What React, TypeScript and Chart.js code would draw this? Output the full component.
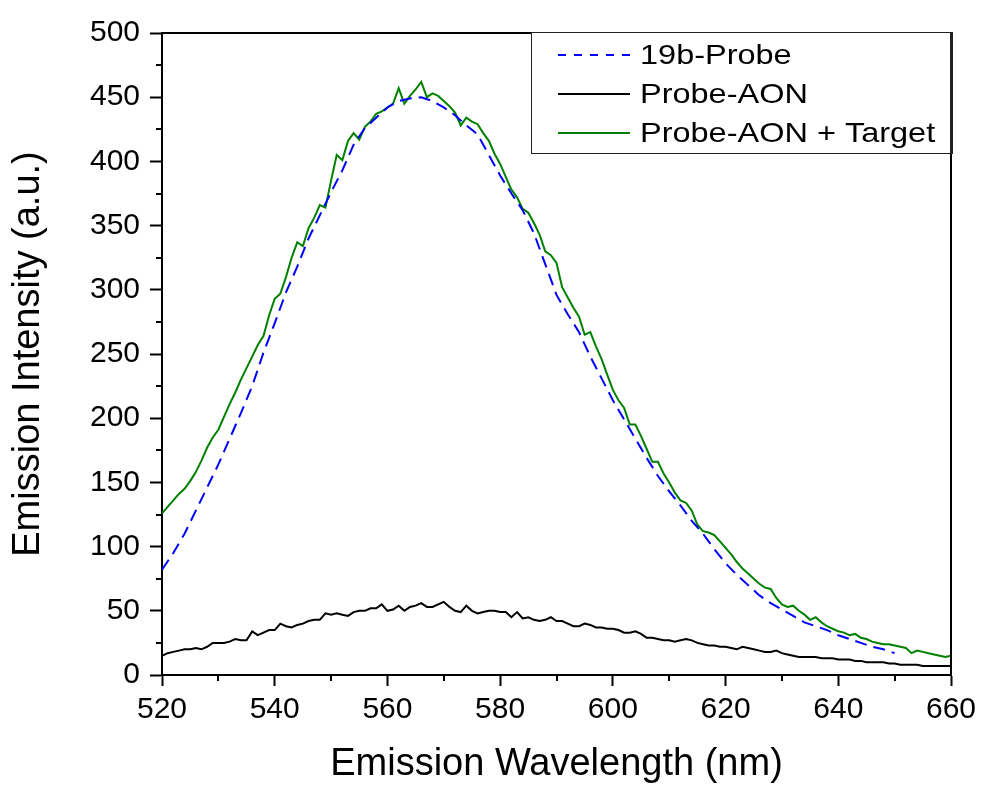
import React, { useEffect, useRef } from "react";
import { Chart, registerables } from "chart.js";

Chart.register(...registerables);

// ---------- data ----------
const SERIES_LABELS = ["19b-Probe", "Probe-AON", "Probe-AON + Target"];
const SERIES_COLORS = ["#0000FF", "#000000", "#008000"];

// 19b-Probe: 520..650 nm, every 2 nm
const PROBE_START = 520;
const PROBE_STEP = 2;
const probe19b = [
  82, 95, 110, 128, 146, 164, 184, 204, 225, 251,
  274, 298, 318, 340, 358, 376, 393, 413, 426, 434,
  442, 447, 449, 450, 447, 442, 436, 428, 421, 405,
  389, 375, 362, 344, 320, 296, 281, 267, 248, 231,
  214, 199, 184, 169, 155, 143, 132, 120, 110, 98,
  87, 78, 70, 62, 56, 51, 46, 41, 38, 35,
  31, 28, 25, 22, 20, 17,
];

// Probe-AON and Probe-AON + Target: 520..660 nm, every 1 nm
const WL_START = 520;
const WL_STEP = 1;
const probeAON = [
  15, 17, 18, 19, 20, 20, 21, 20, 22, 25,
  25, 25, 26, 28, 27, 27, 34, 31, 33, 35,
  35, 40, 38, 37, 39, 40, 42, 43, 43, 48,
  47, 48, 47, 46, 49, 50, 50, 52, 52, 55,
  50, 51, 54, 50, 53, 54, 56, 53, 53, 55,
  57, 53, 50, 49, 54, 50, 48, 49, 50, 50,
  49, 49, 45, 49, 44, 45, 43, 42, 43, 45,
  42, 42, 40, 38, 38, 40, 39, 37, 37, 36,
  36, 35, 33, 33, 34, 32, 29, 29, 28, 27,
  27, 26, 27, 28, 27, 25, 24, 23, 23, 22,
  22, 21, 20, 22, 21, 20, 19, 18, 18, 19,
  17, 16, 15, 14, 14, 14, 14, 13, 13, 13,
  12, 12, 12, 11, 11, 10, 10, 10, 10, 9,
  9, 8, 8, 8, 8, 7, 7, 7, 7, 7,
  7,
];
const probeAONTarget = [
  126, 131, 136, 141, 145, 151, 158, 167, 177, 185,
  191, 201, 211, 220, 230, 239, 248, 257, 264, 280,
  293, 297, 310, 325, 337, 334, 348, 356, 366, 364,
  385, 405, 401, 416, 422, 417, 427, 431, 437, 439,
  442, 445, 457, 445, 451, 456, 462, 450, 453, 451,
  447, 443, 438, 428, 434, 431, 429, 422, 416, 406,
  398, 388, 378, 372, 363, 360, 352, 343, 330, 327,
  321, 302, 294, 286, 279, 265, 267, 256, 246, 234,
  222, 214, 208, 195, 195, 186, 176, 166, 166, 157,
  150, 142, 136, 134, 128, 117, 112, 111, 109, 104,
  99, 94, 88, 83, 79, 75, 71, 68, 67, 60,
  55, 53, 54, 50, 47, 43, 45, 41, 38, 36,
  34, 33, 31, 32, 29, 28, 26, 25, 24, 24,
  23, 22, 21, 17, 19, 18, 17, 16, 15, 14,
  15,
];

const X_MIN = 520;
const X_MAX = 660;
const X_MAJOR = 20;
const X_MINOR = 10;
const Y_MIN = 0;
const Y_MAX = 500;
const Y_MAJOR = 50;
const Y_MINOR = 25;

const X_TITLE = "Emission Wavelength (nm)";
const Y_TITLE = "Emission Intensity (a.u.)";

const FONT = "'Liberation Sans', Arial, sans-serif";

function toPoints(start: number, step: number, values: number[]) {
  return values.map((y, i) => ({ x: start + i * step, y }));
}

const framePlugin = {
  id: "frameAndLegend",
  afterDraw(chart: any) {
    const { ctx, chartArea, scales } = chart;
    const { left, right, top, bottom } = chartArea;
    const xs = scales.x;
    const ys = scales.y;
    ctx.save();
    // top and right frame
    ctx.strokeStyle = "#000";
    ctx.lineWidth = 2;
    ctx.beginPath();
    ctx.moveTo(left, top);
    ctx.lineTo(right, top);
    ctx.lineTo(right, bottom);
    ctx.stroke();

    // minor ticks
    ctx.lineWidth = 2;
    ctx.beginPath();
    for (let v = X_MIN + X_MINOR; v < X_MAX; v += X_MAJOR) {
      const px = Math.round(xs.getPixelForValue(v));
      ctx.moveTo(px, bottom);
      ctx.lineTo(px, bottom + 6);
    }
    for (let v = Y_MIN + Y_MINOR; v < Y_MAX; v += Y_MAJOR) {
      const py = Math.round(ys.getPixelForValue(v));
      ctx.moveTo(left, py);
      ctx.lineTo(left - 6, py);
    }
    ctx.stroke();

    // legend box
    const bx = right - 420;
    const by = top - 1;
    const bw = 421;
    const bh = 121;
    ctx.fillStyle = "#fff";
    ctx.fillRect(bx, by, bw, bh);
    ctx.lineWidth = 1;
    ctx.strokeStyle = "#222";
    ctx.strokeRect(bx + 0.5, by + 0.5, bw, bh);
    ctx.lineWidth = 2;
    ctx.beginPath();
    ctx.moveTo(right, top);
    ctx.lineTo(right, by + bh);
    ctx.stroke();

    const rows = [by + 23, by + 62, by + 101];
    ctx.font = `28px ${FONT}`;
    ctx.textBaseline = "middle";
    ctx.textAlign = "left";
    SERIES_LABELS.forEach((label, i) => {
      const ry = rows[i];
      ctx.strokeStyle = SERIES_COLORS[i];
      ctx.lineWidth = 2;
      ctx.setLineDash(i === 0 ? [8, 8] : []);
      ctx.beginPath();
      ctx.moveTo(bx + 27, ry);
      ctx.lineTo(bx + 99, ry);
      ctx.stroke();
      ctx.setLineDash([]);
      ctx.fillStyle = "#000";
      ctx.save();
      ctx.translate(bx + 109, ry + 1);
      ctx.scale(1.16, 1);
      ctx.fillText(label, 0, 0);
      ctx.restore();
    });
    ctx.restore();
  },
};

export default function App() {
  const canvasRef = useRef<HTMLCanvasElement | null>(null);

  useEffect(() => {
    document.body.style.margin = "0";
    const canvas = canvasRef.current;
    if (!canvas) return;
    const chart = new Chart(canvas, {
      type: "line",
      data: {
        datasets: [
          {
            label: SERIES_LABELS[0],
            data: toPoints(PROBE_START, PROBE_STEP, probe19b),
            borderColor: SERIES_COLORS[0],
            borderWidth: 2,
            borderDash: [12, 7],
            pointRadius: 0,
            fill: false,
            tension: 0,
          },
          {
            label: SERIES_LABELS[1],
            data: toPoints(WL_START, WL_STEP, probeAON),
            borderColor: SERIES_COLORS[1],
            borderWidth: 2,
            pointRadius: 0,
            fill: false,
            tension: 0,
          },
          {
            label: SERIES_LABELS[2],
            data: toPoints(WL_START, WL_STEP, probeAONTarget),
            borderColor: SERIES_COLORS[2],
            borderWidth: 2,
            pointRadius: 0,
            fill: false,
            tension: 0,
          },
        ],
      },
      options: {
        animation: false,
        responsive: false,
        maintainAspectRatio: false,
        layout: { padding: { left: 0, top: 33, right: 32, bottom: 0 } },
        plugins: {
          legend: { display: false },
          tooltip: { enabled: false },
        },
        scales: {
          x: {
            type: "linear",
            min: X_MIN,
            max: X_MAX,
            afterFit: (s: any) => {
              s.height = 110;
            },
            ticks: {
              stepSize: X_MAJOR,
              color: "#000",
              padding: 6,
              maxRotation: 0,
              font: { family: FONT, size: 30 },
            },
            grid: {
              drawOnChartArea: false,
              drawTicks: true,
              tickLength: 11,
              tickWidth: 2,
              tickColor: "#000",
            },
            border: { display: true, color: "#000", width: 2 },
            title: {
              display: true,
              text: X_TITLE,
              color: "#000",
              font: { family: FONT, size: 38, lineHeight: 1.1 },
              padding: { top: 0, bottom: 0 },
            },
          },
          y: {
            type: "linear",
            min: Y_MIN,
            max: Y_MAX,
            afterFit: (s: any) => {
              s.width = 162;
            },
            ticks: {
              stepSize: Y_MAJOR,
              color: "#000",
              padding: 10,
              font: { family: FONT, size: 30 },
            },
            grid: {
              drawOnChartArea: false,
              drawTicks: true,
              tickLength: 12,
              tickWidth: 2,
              tickColor: "#000",
            },
            border: { display: true, color: "#000", width: 2 },
            title: {
              display: true,
              text: Y_TITLE,
              color: "#000",
              font: { family: FONT, size: 38, lineHeight: 1.1 },
              padding: { top: 8, bottom: 0 },
            },
          },
        },
      },
      plugins: [framePlugin],
    });
    return () => chart.destroy();
  }, []);

  return (
    <div style={{ width: 983, height: 785, background: "#fff" }}>
      <canvas ref={canvasRef} width={983} height={785} style={{ display: "block" }} />
    </div>
  );
}
